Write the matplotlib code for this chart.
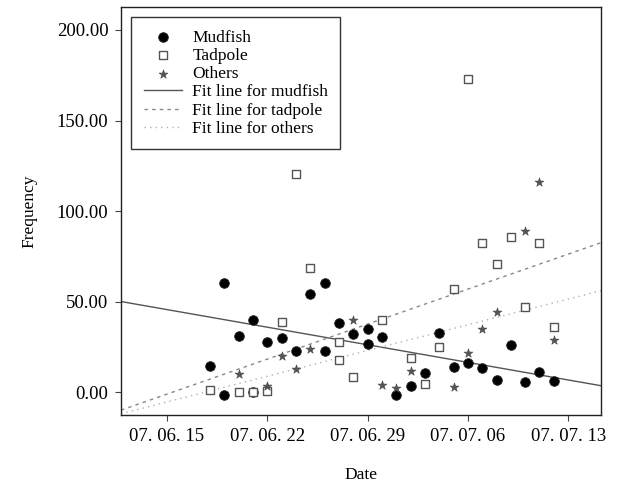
import numpy as np
import pandas as pd
import matplotlib
matplotlib.use("Agg")
import matplotlib.pyplot as plt
import matplotlib.dates as mdates

plt.rcParams["font.family"] = ["Liberation Serif", "DejaVu Serif"]

# Mudfish counts (day of sampling, frequency)
mud_dates = ["06-18", "06-19", "06-19", "06-20", "06-21", "06-21", "06-22", "06-23",
             "06-24", "06-25", "06-26", "06-26", "06-27", "06-28", "06-29", "06-29",
             "06-30", "07-01", "07-02", "07-03", "07-04", "07-05", "07-06", "07-07",
             "07-08", "07-09", "07-10", "07-11", "07-12"]
mud_freq = [14.4, 60.0, -1.5, 31.0, 39.8, 0.0, 27.8, 29.6,
            22.7, 54.0, 60.4, 22.8, 38.0, 32.0, 34.8, 26.5,
            30.6, -1.5, 3.3, 10.7, 32.8, 14.0, 15.8, 13.1,
            6.6, 26.0, 5.4, 11.2, 6.2]

# Tadpole counts
tad_dates = ["06-18", "06-20", "06-21", "06-22", "06-23", "06-24", "06-25", "06-27",
             "06-27", "06-28", "06-30", "07-02", "07-03", "07-04", "07-05", "07-06",
             "07-07", "07-08", "07-09", "07-10", "07-11", "07-12"]
tad_freq = [1.0, 0.0, 0.0, 0.5, 38.7, 120.2, 68.3, 27.8,
            17.7, 8.5, 39.8, 18.6, 4.2, 24.7, 56.7, 173.0,
            82.3, 70.7, 85.8, 46.8, 82.6, 35.7]

# Other species counts
oth_dates = ["06-20", "06-22", "06-23", "06-24", "06-25", "06-28", "06-30", "07-01",
             "07-02", "07-05", "07-06", "07-07", "07-08", "07-10", "07-11", "07-12"]
oth_freq = [9.8, 3.3, 19.9, 12.7, 23.6, 39.8, 4.0, 2.4,
            11.8, 2.6, 21.7, 34.8, 44.4, 89.0, 115.9, 28.7]

# Fit lines, read at both ends of the plotted range
fit_dates = ["2007-06-11 19:00", "2007-07-15 07:00"]
fit_mud = [50.0, 3.5]
fit_tad = [-10.0, 82.5]
fit_oth = [-12.0, 56.0]

xticks = ["2007-06-15", "2007-06-22", "2007-06-29", "2007-07-06", "2007-07-13"]
yticks = [0, 50, 100, 150, 200]


def to_dt(days):
    return pd.to_datetime(["2007-" + d for d in days])


fig = plt.figure(figsize=(6.27, 4.9), dpi=100)
ax = fig.add_axes([0.193, 0.153, 0.7655, 0.8327])

ax.scatter(to_dt(mud_dates), mud_freq, marker="o", s=48, color="black",
           edgecolors="#222222", linewidths=0.6, label="Mudfish", zorder=3)
ax.scatter(to_dt(tad_dates), tad_freq, marker="s", s=26, facecolors="white",
           edgecolors="#555555", linewidths=1.0, label="Tadpole", zorder=3)
ax.scatter(to_dt(oth_dates), oth_freq, marker="*", s=45, color="#555555",
           edgecolors="#444444", linewidths=0.4, label="Others", zorder=3)

fx = pd.to_datetime(fit_dates)
ax.plot(fx, fit_mud, color="#555555", lw=1.0, linestyle="-", label="Fit line for mudfish")
ax.plot(fx, fit_tad, color="#888888", lw=1.0, linestyle=(0, (2.5, 3)), label="Fit line for tadpole")
ax.plot(fx, fit_oth, color="#b0b0b0", lw=1.0, linestyle=(0, (1, 3)), label="Fit line for others")

ax.set_xlim(fx[0], fx[1])
ax.set_ylim(-12.7, 212.7)
ax.set_xticks(pd.to_datetime(xticks))
ax.xaxis.set_major_formatter(mdates.DateFormatter("%y. %m. %d"))
ax.set_yticks(yticks)
ax.set_yticklabels([f"{v:.2f}" for v in yticks])

ax.tick_params(axis="both", labelsize=13.5, length=4, width=0.8, color="#444444",
               direction="out", pad=5)
for s in ax.spines.values():
    s.set_linewidth(1.0)
    s.set_color("#222222")

ax.set_xlabel("Date", fontsize=12.5, labelpad=16)
ax.set_ylabel("Frequency", fontsize=12.5, labelpad=14)

leg = ax.legend(loc="upper left", fontsize=12.5, frameon=True, fancybox=False,
                edgecolor="black", borderpad=0.7, labelspacing=0.12,
                handlelength=2.2, handletextpad=0.6, borderaxespad=0.6)
leg.get_frame().set_linewidth(1.0)

fig.savefig("out.png", dpi=100)
